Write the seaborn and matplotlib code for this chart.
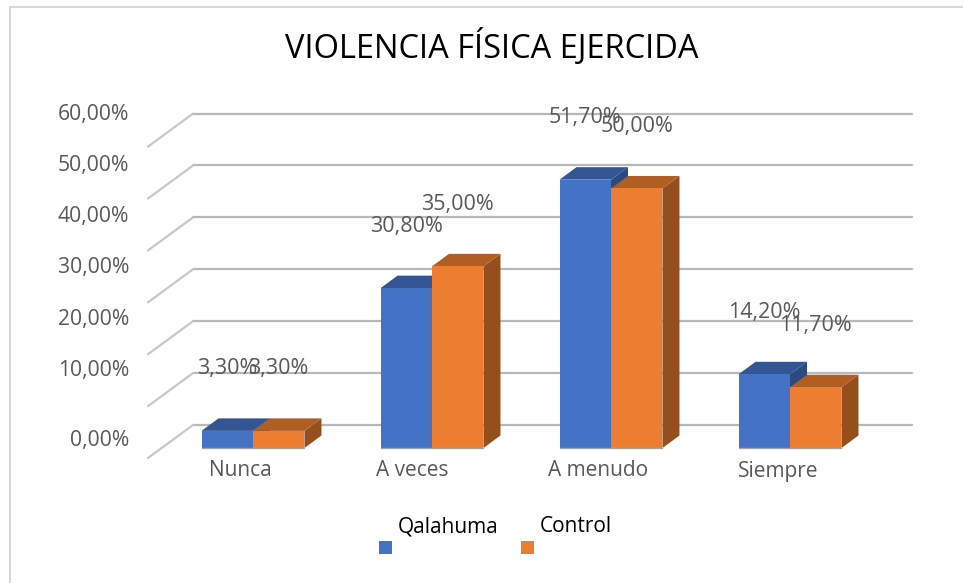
import matplotlib
matplotlib.use('Agg')
import matplotlib.pyplot as plt
from matplotlib.patches import Polygon, Rectangle
from matplotlib.transforms import ScaledTranslation
import pandas as pd
import seaborn as sns

# Data
categories = ['Nunca', 'A veces', 'A menudo', 'Siempre']
qalahuma = [3.3, 30.8, 51.7, 14.2]
control = [3.3, 35.0, 50.0, 11.7]
y_ticks = [0, 10, 20, 30, 40, 50, 60]
y_tick_labels = ['0,00%', '10,00%', '20,00%', '30,00%', '40,00%', '50,00%', '60,00%']

df = pd.DataFrame({
    'Categoria': categories * 2,
    'Serie': ['Qalahuma'] * 4 + ['Control'] * 4,
    'Valor': qalahuma + control,
})

W, H = 963, 583
PX = 72 / 100  # points per pixel at dpi 100
colors = {'Qalahuma': '#4472C4', 'Control': '#ED7D31'}
top_colors = ['#335593', '#B15E23']
side_colors = ['#2A4A80', '#954F1C']
TEXT = '#595959'

sns.set_theme(style='white')
plt.rcParams['font.family'] = ['Open Sans', 'DejaVu Sans']

fig = plt.figure(figsize=(W / 100, H / 100), dpi=100)

# Axes = front plane of the 3D box, in pixels of the picture
left, right, bottom, top = 148, 912, 448, 111
ax = fig.add_axes([left / W, 1 - bottom / H, (right - left) / W, (bottom - top) / H])
sns.barplot(data=df, x='Categoria', y='Valor', hue='Serie', palette=colors, width=0.575,
            gap=0, saturation=1, legend=False, edgecolor='none', linewidth=0, ax=ax)

px_x = 179.0  # pixels per category
px_y = 5.19  # pixels per percent
ax.set_xlim((left - 253) / px_x, (right - 253) / px_x)
ax.set_ylim(0, (bottom - top) / px_y)
sns.despine(ax=ax, left=True, bottom=True)
ax.patch.set_alpha(0)
ax.set_xlabel('')
ax.set_ylabel('')

# Walls: gridlines at the back, diagonals going to the front
wall_x = 45 / px_x
wall_y = 23 / px_y
for v in y_ticks:
    ax.plot([ax.get_xlim()[0] + wall_x, ax.get_xlim()[1]], [v + wall_y, v + wall_y], color='#B8B8B8',
            lw=2.2 * PX, zorder=1, clip_on=False, solid_capstyle='round')
    ax.plot([ax.get_xlim()[0], ax.get_xlim()[0] + wall_x], [v - 10 / px_y, v + wall_y], color='#C8C8C8',
            lw=2.2 * PX, zorder=1, clip_on=False, solid_capstyle='round')

# 3D faces of the bars, taken from the bars seaborn drew
dx = 17 / px_x
dy = 12.5 / px_y
n = len(categories)
for i, bar in enumerate(ax.patches[:2 * n]):
    s = i // n
    x0, w, h = bar.get_x(), bar.get_width(), bar.get_height()
    x1 = x0 + w
    z = 2 + s
    ax.add_patch(Polygon([(x1, 0), (x1 + dx, dy), (x1 + dx, h + dy), (x1, h)], facecolor=side_colors[s],
                         edgecolor='none', zorder=z, clip_on=False))
    ax.add_patch(Polygon([(x0, h), (x0 + dx, h + dy), (x1 + dx, h + dy), (x1, h)], facecolor=top_colors[s],
                         edgecolor='none', zorder=z, clip_on=False))
    bar.set_zorder(z + 0.5)
    bar.set_clip_on(False)
    ax.annotate(f'{h:.2f}%'.replace('.', ','), (x0 + w / 2, h), xytext=(0, 62 * PX), textcoords='offset points',
                ha='center', va='center', fontsize=15.5, color=TEXT, zorder=6)

# Floor edge under the bars
for i in range(n):
    ax.plot([i - 0.2875, i + 0.2875], [0, 0], color='#A6A6A6', lw=1, zorder=5, clip_on=False)

# Tick labels
ax.set_xticks(range(n))
ax.set_xticklabels(categories)
ax.tick_params(axis='x', length=0, pad=9, labelsize=15, labelcolor=TEXT)
for lab, off in zip(ax.get_xticklabels(), [-13, -19.5, -13, -12]):
    lab.set_transform(lab.get_transform() + ScaledTranslation(off / 100, 0, fig.dpi_scale_trans))

ax.set_yticks(y_ticks)
ax.set_yticklabels(y_tick_labels)
ax.tick_params(axis='y', length=0, pad=19 * PX, labelsize=15.2, labelcolor=TEXT)
for lab, off in zip(ax.get_yticklabels(), [10, 28, 27, 27, 26, 25, 25]):
    lab.set_transform(lab.get_transform() + ScaledTranslation(0, off / 100, fig.dpi_scale_trans))

# Title
fig.text(491.5 / W, 1 - 47.5 / H, 'VIOLENCIA FÍSICA EJERCIDA', ha='center', va='center', fontsize=23.5, color='black')

# Legend, text above the colour squares as in the original
fig.text(398 / W, 1 - 532 / H, 'Qalahuma', ha='left', va='baseline', fontsize=15, color='black')
fig.text(540 / W, 1 - 532 / H, 'Control', ha='left', va='baseline', fontsize=15, color='black')
for x_px, name in zip([379, 521], ['Qalahuma', 'Control']):
    fig.add_artist(Rectangle((x_px / W, 1 - 554 / H), 13 / W, 13 / H, transform=fig.transFigure,
                             facecolor=colors[name], edgecolor='none'))

# Chart frame
fig.add_artist(plt.Line2D([10 / W, 10 / W], [0, 1 - 7 / H], color='#D9D9D9', lw=2 * PX))
fig.add_artist(plt.Line2D([10 / W, 1], [1 - 7 / H, 1 - 7 / H], color='#D9D9D9', lw=2 * PX))

fig.savefig('out.png', dpi=100)
